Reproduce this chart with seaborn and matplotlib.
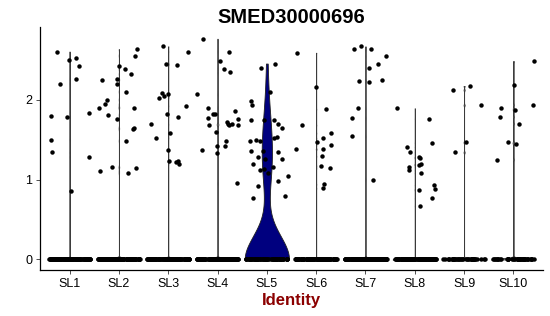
import numpy as np
import pandas as pd
import matplotlib
matplotlib.use("Agg")
import matplotlib.pyplot as plt
import seaborn as sns

# ---------------- data ----------------
categories = ["SL1", "SL2", "SL3", "SL4", "SL5", "SL6", "SL7", "SL8", "SL9", "SL10"]

sl1 = [2.60, 2.42, 2.52, 2.50, 2.20, 2.26, 1.835, 1.78, 1.79, 1.50, 1.34, 1.285, 0.86]
sl2 = [2.38, 2.19, 1.90, 1.94, 1.63, 1.90, 1.65, 1.485, 1.76, 2.10, 2.26, 2.32, 2.24,
       2.42, 2.55, 2.63, 2.00, 1.81, 1.15, 1.16, 1.11, 1.08]
sl3 = [2.665, 2.60, 2.45, 2.435, 2.045, 1.92, 1.785, 1.82, 1.69, 2.08, 2.07, 2.02,
       1.585, 1.52, 1.365, 1.23, 1.22, 1.19, 1.23]
sl4 = [2.60, 2.385, 2.34, 2.76, 2.485, 2.065, 1.33, 1.69, 1.59, 1.68, 1.765, 1.82,
       1.855, 1.755, 1.70, 1.685, 1.685, 1.90, 1.82, 1.72, 1.48, 1.42, 1.42, 1.365, 0.95]
sl5 = [2.45, 2.40, 2.09, 1.985, 1.93, 1.74, 1.75, 1.74, 1.69, 1.65, 1.52, 1.53, 1.50,
       1.485, 1.48, 1.36, 1.36, 1.34, 1.28, 1.26, 1.26, 1.19, 1.16, 1.135, 1.12, 1.08,
       1.05, 0.985, 0.92, 0.79, 0.765]
sl6 = [2.585, 2.16, 1.88, 1.515, 1.58, 1.38, 1.29, 1.17, 1.68, 1.43, 1.465, 1.38,
       1.14, 0.94, 0.89]
sl7 = [2.54, 2.45, 2.39, 2.63, 2.665, 2.63, 2.24, 2.22, 2.235, 1.89, 1.54, 1.77, 1.0]
sl8 = [1.76, 1.34, 1.185, 1.115, 0.93, 0.865, 0.765, 0.67, 1.89, 1.405, 1.28, 1.46,
       1.19, 1.16, 1.08, 1.27, 0.88]
sl9 = [2.17, 1.93, 1.465, 1.34, 2.12]
sl10 = [2.48, 2.18, 1.89, 1.865, 1.465, 1.935, 1.785, 1.70, 1.45, 1.25]

# number of cells with zero expression per identity
n_zeros = [120, 120, 110, 120, 80, 110, 120, 110, 40, 45]

nonzero = [sl1, sl2, sl3, sl4, sl5, sl6, sl7, sl8, sl9, sl10]

rows = []
for cat, vals, nz in zip(categories, nonzero, n_zeros):
    for v in [0.0] * nz + list(vals):
        rows.append((cat, v))
df = pd.DataFrame(rows, columns=["ident", "expr"])

# ---------------- style ----------------
sns.set_style("ticks")
plt.rcParams["font.family"] = ["Liberation Sans", "DejaVu Sans"]

fig = plt.figure(figsize=(5.5, 3.16), dpi=100)
ax = fig.add_axes([0.0727, 0.144, 0.9146, 0.770])

np.random.seed(3)

others = df[df["ident"] != "SL5"]
sns.violinplot(data=others, x="ident", y="expr", order=categories,
               density_norm="width", cut=0, inner=None, width=0.9,
               bw_method=0.02, gridsize=400, color="#777777",
               linecolor="#3a3a3a", linewidth=0.6, saturation=1, ax=ax)

target = df[df["ident"] == "SL5"]
sns.violinplot(data=target, x="ident", y="expr", order=categories,
               density_norm="width", cut=0, inner=None, width=0.9,
               bw_method=0.43, color="#00007f", linecolor="#202020",
               linewidth=0.6, saturation=1, ax=ax)

sns.stripplot(data=df, x="ident", y="expr", order=categories,
              jitter=0.43, size=3.2, color="black", linewidth=0,
              zorder=3, ax=ax)

ax.set_xlim(-0.6, 9.6)
ax.set_ylim(-0.138, 2.905)
ax.set_yticks([0, 1, 2])
ax.set_yticklabels(["0", "1", "2"])

for s in ["top", "right"]:
    ax.spines[s].set_visible(False)
for s in ["left", "bottom"]:
    ax.spines[s].set_linewidth(0.9)
    ax.spines[s].set_color("black")

ax.tick_params(axis="both", length=3, width=0.6, color="#333333",
               labelsize=9, labelcolor="black", pad=2.5)

ax.set_ylabel("")
ax.set_xlabel("Identity", fontsize=12, fontweight="bold", color="#8B0000",
              labelpad=2)
ax.set_title("SMED30000696", fontsize=14.5, fontweight="bold", pad=3,
             color="black")

fig.savefig("out.png", dpi=100)
